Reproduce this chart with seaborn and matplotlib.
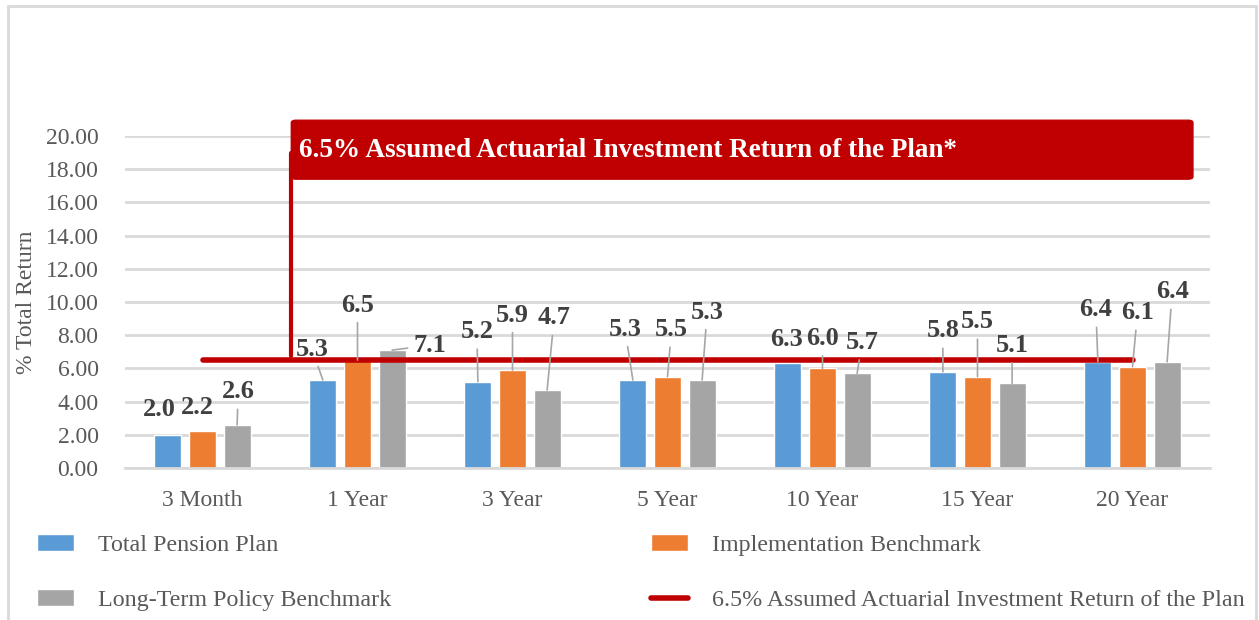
import numpy as np
import pandas as pd
import matplotlib
matplotlib.use("Agg")
import matplotlib.pyplot as plt
import seaborn as sns
from matplotlib.patches import Rectangle, FancyBboxPatch
from matplotlib.lines import Line2D

# ---- data ----
periods = ["3 Month", "1 Year", "3 Year", "5 Year", "10 Year", "15 Year", "20 Year"]
total_plan = [2.0, 5.3, 5.2, 5.3, 6.3, 5.8, 6.4]
implementation = [2.2, 6.5, 5.9, 5.5, 6.0, 5.5, 6.1]
long_term = [2.6, 7.1, 4.7, 5.3, 5.7, 5.1, 6.4]
series_names = ["Total Pension Plan", "Implementation Benchmark", "Long-Term Policy Benchmark"]
assumed_return = 6.5
assumed_label = "6.5% Assumed Actuarial Investment Return of the Plan"
callout_text = "6.5% Assumed Actuarial Investment Return of the Plan*"
yticks = [0, 2, 4, 6, 8, 10, 12, 14, 16, 18, 20]

colors = ["#5B9BD5", "#ED7D31", "#A5A5A5"]
red = "#C00000"
tick_color = "#595959"
grid_color = "#D9D9D9"

# label offsets (pixels) from each bar top, per series / period
label_offsets = [
    [(-9, 25), (-11, 31), (-1, 50), (-8, 51), (-1, 24), (0, 41), (-2, 52)],
    [(-5, 24), (0, 55), (0, 55), (4, 47), (0, 30), (0, 55), (5, 54)],
    [(1, 33), (38, 5), (7, 72), (5, 68), (5, 31), (0, 38), (5, 70)],
]

df = pd.DataFrame({
    "period": periods * 3,
    "series": np.repeat(series_names, len(periods)),
    "value": total_plan + implementation + long_term,
})

sns.set_theme(style="white")
plt.rcParams["font.family"] = ["Liberation Serif", "DejaVu Serif"]

fig = plt.figure(figsize=(12.59, 6.2), dpi=100)
ax = fig.add_axes([125 / 1259, 1 - 468 / 620, 1085 / 1259, 332 / 620])

sns.barplot(data=df, x="period", y="value", hue="series", palette=colors,
            width=0.67, gap=0.22, ax=ax, legend=False, saturation=1)

ax.set_xlim(-0.5, 6.5)
ax.set_ylim(0, 20)
ax.set_yticks(yticks)
ax.set_yticklabels([f"{t:.2f}" for t in yticks])
ax.yaxis.grid(True, color=grid_color, lw=2)
ax.set_axisbelow(True)
for s in ["top", "right", "left"]:
    ax.spines[s].set_visible(False)
ax.spines["bottom"].set_color(grid_color)
ax.spines["bottom"].set_linewidth(2)
ax.tick_params(axis="both", length=0, labelsize=17, colors=tick_color)
ax.tick_params(axis="x", pad=16)
ax.tick_params(axis="y", pad=19)
ax.set_xlabel("")
ax.set_ylabel("% Total Return", fontsize=17, color=tick_color, labelpad=6)

# data labels with leader lines
for si, cont in enumerate(ax.containers):
    for pi, bar in enumerate(cont):
        v = bar.get_height()
        x = bar.get_x() + bar.get_width() / 2
        dx, dy = label_offsets[si][pi]
        leader = dy > 28 or abs(dx) > 20
        ax.annotate(f"{v:.1f}", xy=(x, v), xytext=(dx, dy), textcoords="offset pixels",
                    ha="center", va="center", fontsize=19, fontweight="bold",
                    color="#404040", zorder=6,
                    arrowprops=dict(arrowstyle="-", color="#A6A6A6", lw=1.2,
                                    shrinkA=2, shrinkB=0) if leader else None)

# assumed return line
ax.plot([0, 6.0], [assumed_return, assumed_return], color=red, lw=4,
        solid_capstyle="round", zorder=5)

# callout box and leader
ax.add_patch(FancyBboxPatch((0.573, 17.4), 6.39 - 0.573, 20.95 - 17.4,
                            boxstyle="round,pad=0,rounding_size=0.03",
                            facecolor=red, edgecolor=red, clip_on=False, zorder=7,
                            mutation_aspect=5))
ax.plot([0.573, 0.573], [19.0, 6.75], color=red, lw=3, clip_on=False, zorder=7)
ax.text(0.62, 19.15, callout_text, color="white", fontsize=19.5, fontweight="bold",
        ha="left", va="center", zorder=8)

# figure border
fig.add_artist(Rectangle((8 / 1259, -0.05), 1248 / 1259, 1.05 - 6 / 620,
                         transform=fig.transFigure, fill=False,
                         edgecolor=grid_color, lw=2))

# legend (row-wise order: matplotlib fills columns first)
handles = [
    Rectangle((0, 0), 1, 1, facecolor=colors[0]),
    Rectangle((0, 0), 1, 1, facecolor=colors[2]),
    Rectangle((0, 0), 1, 1, facecolor=colors[1]),
    Line2D([0], [0], color=red, lw=4),
]
labels = [series_names[0], series_names[2], series_names[1], assumed_label]
fig.legend(handles, labels, loc="upper left", ncol=2, mode="expand",
           bbox_to_anchor=(37 / 1259, 1 - 540 / 620, (1245 - 37) / 1259, 0.01),
           frameon=False, borderaxespad=0, borderpad=0, fontsize=17.3,
           labelcolor=tick_color, handlelength=1.55, handleheight=0.7,
           handletextpad=1.0, labelspacing=1.4)

fig.savefig("out.png", dpi=100)
